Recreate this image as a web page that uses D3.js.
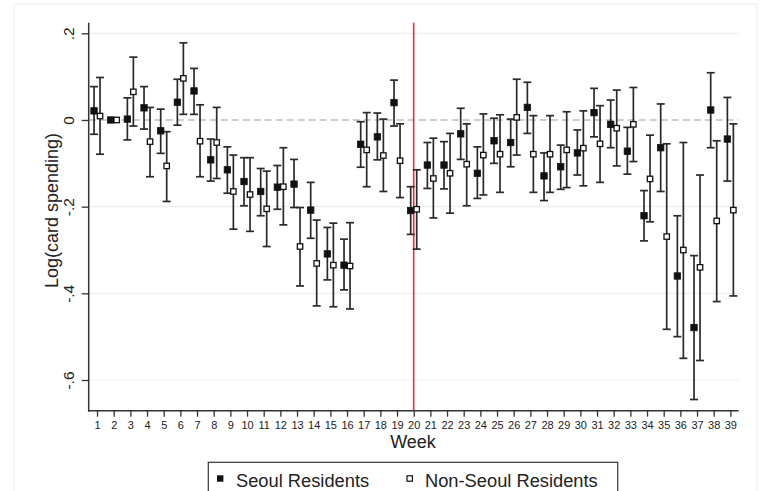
<!DOCTYPE html>
<html>
<head>
<meta charset="utf-8">
<script src="https://cdn.jsdelivr.net/npm/d3@7"></script>
<style>
  html, body { margin: 0; padding: 0; background: #fff; }
  svg { display: block; font-family: "Liberation Sans", Arial, Helvetica, sans-serif; }
</style>
</head>
<body>
<svg id="chart" width="761" height="491"></svg>
<script>
// ---- Data ----
const weeks = d3.range(1, 40);
const seoul    = [0.021,0,0.002,0.028,-0.025,0.041,0.067,-0.092,-0.115,-0.142,-0.165,-0.155,-0.148,-0.208,-0.309,-0.335,-0.056,-0.039,0.040,-0.209,-0.104,-0.104,-0.032,-0.123,-0.048,-0.052,0.029,-0.129,-0.108,-0.076,0.017,-0.010,-0.072,-0.221,-0.064,-0.360,-0.479,0.023,-0.044];
const seoulLo  = [-0.033,0,-0.046,-0.021,-0.077,-0.012,0.013,-0.141,-0.169,-0.198,-0.221,-0.206,-0.202,-0.273,-0.369,-0.392,-0.109,-0.092,-0.014,-0.264,-0.158,-0.159,-0.091,-0.181,-0.100,-0.108,-0.031,-0.186,-0.160,-0.127,-0.039,-0.064,-0.125,-0.279,-0.165,-0.500,-0.645,-0.064,-0.141];
const seoulHi  = [0.077,0,0.051,0.077,0.025,0.094,0.119,-0.044,-0.062,-0.087,-0.112,-0.105,-0.091,-0.144,-0.248,-0.275,-0.004,0.016,0.092,-0.154,-0.052,-0.050,0.027,-0.062,0.004,0.002,0.087,-0.076,-0.058,-0.023,0.073,0.046,-0.017,-0.163,0.037,-0.221,-0.313,0.109,0.052];
const nonSeoul   = [0.009,0,0.065,-0.050,-0.106,0.096,-0.049,-0.052,-0.165,-0.172,-0.205,-0.154,-0.292,-0.331,-0.335,-0.337,-0.069,-0.082,-0.094,-0.206,-0.135,-0.123,-0.102,-0.081,-0.079,0.006,-0.079,-0.079,-0.069,-0.065,-0.055,-0.019,-0.010,-0.136,-0.269,-0.300,-0.340,-0.233,-0.208];
const nonSeoulLo = [-0.079,0,-0.014,-0.131,-0.188,0.013,-0.131,-0.135,-0.252,-0.257,-0.292,-0.242,-0.383,-0.429,-0.431,-0.436,-0.154,-0.165,-0.179,-0.298,-0.226,-0.215,-0.198,-0.173,-0.167,-0.081,-0.167,-0.167,-0.156,-0.152,-0.144,-0.106,-0.096,-0.235,-0.483,-0.550,-0.555,-0.419,-0.406];
const nonSeoulHi = [0.098,0,0.145,0.029,-0.027,0.178,0.035,0.029,-0.081,-0.087,-0.118,-0.064,-0.202,-0.231,-0.238,-0.237,0.017,0.002,-0.009,-0.115,-0.042,-0.031,-0.009,0.014,0.012,0.094,0.010,0.010,0.019,0.021,0.033,0.069,0.075,-0.035,-0.055,-0.052,-0.127,-0.048,-0.009];
const yTicks = [0.2, 0, -0.2, -0.4, -0.6];
const yTickLabels = [".2", "0", "-.2", "-.4", "-.6"];
const eventWeek = 20;
const seriesNames = ["Seoul Residents", "Non-Seoul Residents"];

// ---- Layout ----
const svg = d3.select("#chart");
const pLeft = 88.7, pRight = 738.7, pTop = 22.7, pBottom = 410.7;
const x = d3.scaleLinear().domain([0.5, 39.5]).range([pLeft, pRight]);
const y = d3.scaleLinear().domain([-0.6, 0.2]).range([380, 33.3]);
const off = 0.18;

// outer faint frame
svg.append("rect").attr("x", 14).attr("y", 4).attr("width", 743).attr("height", 520)
  .attr("fill", "none").attr("stroke", "#eeeeee").attr("stroke-width", 1);

// gridlines
svg.append("g").selectAll("line").data(yTicks.filter(d => d !== 0)).join("line")
  .attr("x1", pLeft).attr("x2", pRight)
  .attr("y1", d => y(d)).attr("y2", d => y(d))
  .attr("stroke", "#efefef").attr("stroke-width", 1.2);

// zero dashed line
svg.append("line").attr("x1", pLeft).attr("x2", pRight)
  .attr("y1", y(0)).attr("y2", y(0))
  .attr("stroke", "#bdbdbd").attr("stroke-width", 1.3).attr("stroke-dasharray", "7,4");

// red vertical line
svg.append("line").attr("x1", x(eventWeek)).attr("x2", x(eventWeek))
  .attr("y1", pTop).attr("y2", pBottom)
  .attr("stroke", "#e3343a").attr("stroke-width", 1.6);

// y axis
const yAxis = d3.axisLeft(y).tickValues(yTicks).tickSize(7).tickFormat((d, i) => yTickLabels[i]);
const gy = svg.append("g").attr("transform", `translate(${pLeft},0)`).call(yAxis);
gy.select(".domain").remove();
gy.selectAll(".tick line").attr("stroke", "#333").attr("stroke-width", 1.3);
gy.selectAll(".tick text").remove();
gy.selectAll(".tick").append("text")
  .attr("transform", "translate(-15,0) rotate(-90)")
  .attr("text-anchor", "middle").attr("fill", "#222")
  .style("font-size", "15.5px")
  .text((d, i) => yTickLabels[i]);
svg.append("line").attr("x1", pLeft).attr("x2", pLeft).attr("y1", pTop).attr("y2", pBottom + 0.7)
  .attr("stroke", "#333").attr("stroke-width", 1.5);

// x axis
const xAxis = d3.axisBottom(x).tickValues(weeks).tickSize(6).tickFormat(d3.format("d"));
const gx = svg.append("g").attr("transform", `translate(0,${pBottom})`).call(xAxis);
gx.select(".domain").remove();
gx.selectAll(".tick line").attr("stroke", "#333").attr("stroke-width", 1.3);
gx.selectAll(".tick text").attr("y", 11).attr("fill", "#222")
  .style("font-size", "11px").style("font-family", "'Liberation Sans', Arial, sans-serif");
svg.append("line").attr("x1", pLeft - 0.7).attr("x2", pRight).attr("y1", pBottom).attr("y2", pBottom)
  .attr("stroke", "#333").attr("stroke-width", 1.5);

// axis titles
svg.append("text").attr("transform", "translate(58,210.5) rotate(-90)")
  .attr("text-anchor", "middle").attr("fill", "#222").style("font-size", "18px")
  .text("Log(card spending)");
svg.append("text").attr("x", 413).attr("y", 447.5)
  .attr("text-anchor", "middle").attr("fill", "#222").style("font-size", "18px")
  .text("Week");

// data rows
const rows = weeks.map((w, i) => ({
  w,
  s: seoul[i], sLo: seoulLo[i], sHi: seoulHi[i],
  n: nonSeoul[i], nLo: nonSeoulLo[i], nHi: nonSeoulHi[i]
}));

function errorBars(g, key, dx) {
  const data = rows.filter(r => r[key + "Lo"] !== r[key + "Hi"]);
  const cap = 4;
  const gg = g.append("g").attr("stroke", "#2a2a2a").attr("stroke-width", 1.7);
  gg.selectAll("line.v").data(data).join("line").attr("class", "v")
    .attr("x1", r => x(r.w + dx)).attr("x2", r => x(r.w + dx))
    .attr("y1", r => y(r[key + "Lo"])).attr("y2", r => y(r[key + "Hi"]));
  gg.selectAll("line.t").data(data).join("line").attr("class", "t")
    .attr("x1", r => x(r.w + dx) - cap).attr("x2", r => x(r.w + dx) + cap)
    .attr("y1", r => y(r[key + "Hi"])).attr("y2", r => y(r[key + "Hi"]));
  gg.selectAll("line.b").data(data).join("line").attr("class", "b")
    .attr("x1", r => x(r.w + dx) - cap).attr("x2", r => x(r.w + dx) + cap)
    .attr("y1", r => y(r[key + "Lo"])).attr("y2", r => y(r[key + "Lo"]));
}
const plot = svg.append("g");
errorBars(plot, "s", -off);
errorBars(plot, "n", off);

const ms = 6.4;
plot.append("g").selectAll("rect").data(rows).join("rect")
  .attr("x", r => x(r.w - off) - ms / 2).attr("y", r => y(r.s) - ms / 2)
  .attr("width", ms).attr("height", ms)
  .attr("fill", "#111").attr("stroke", "#111").attr("stroke-width", 0.8);
plot.append("g").selectAll("rect").data(rows).join("rect")
  .attr("x", r => x(r.w + off) - (ms - 1) / 2).attr("y", r => y(r.n) - (ms - 1) / 2)
  .attr("width", ms - 1).attr("height", ms - 1)
  .attr("fill", "#fff").attr("stroke", "#111").attr("stroke-width", 1.3);

// legend
const lg = svg.append("g");
lg.append("rect").attr("x", 208.3).attr("y", 462.3).attr("width", 409.4).attr("height", 45)
  .attr("fill", "#fff").attr("stroke", "#333").attr("stroke-width", 1.2);
lg.append("rect").attr("x", 217).attr("y", 475.3).attr("width", 6.4).attr("height", 6.4)
  .attr("fill", "#111");
lg.append("rect").attr("x", 407).attr("y", 475.8).attr("width", 5.4).attr("height", 5.4)
  .attr("fill", "#fff").attr("stroke", "#111").attr("stroke-width", 1.2);
lg.append("text").attr("x", 236).attr("y", 486.5).attr("fill", "#222").style("font-size", "18.3px")
  .text(seriesNames[0]);
lg.append("text").attr("x", 425).attr("y", 486.5).attr("fill", "#222").style("font-size", "18.3px")
  .text(seriesNames[1]);
</script>
</body>
</html>
